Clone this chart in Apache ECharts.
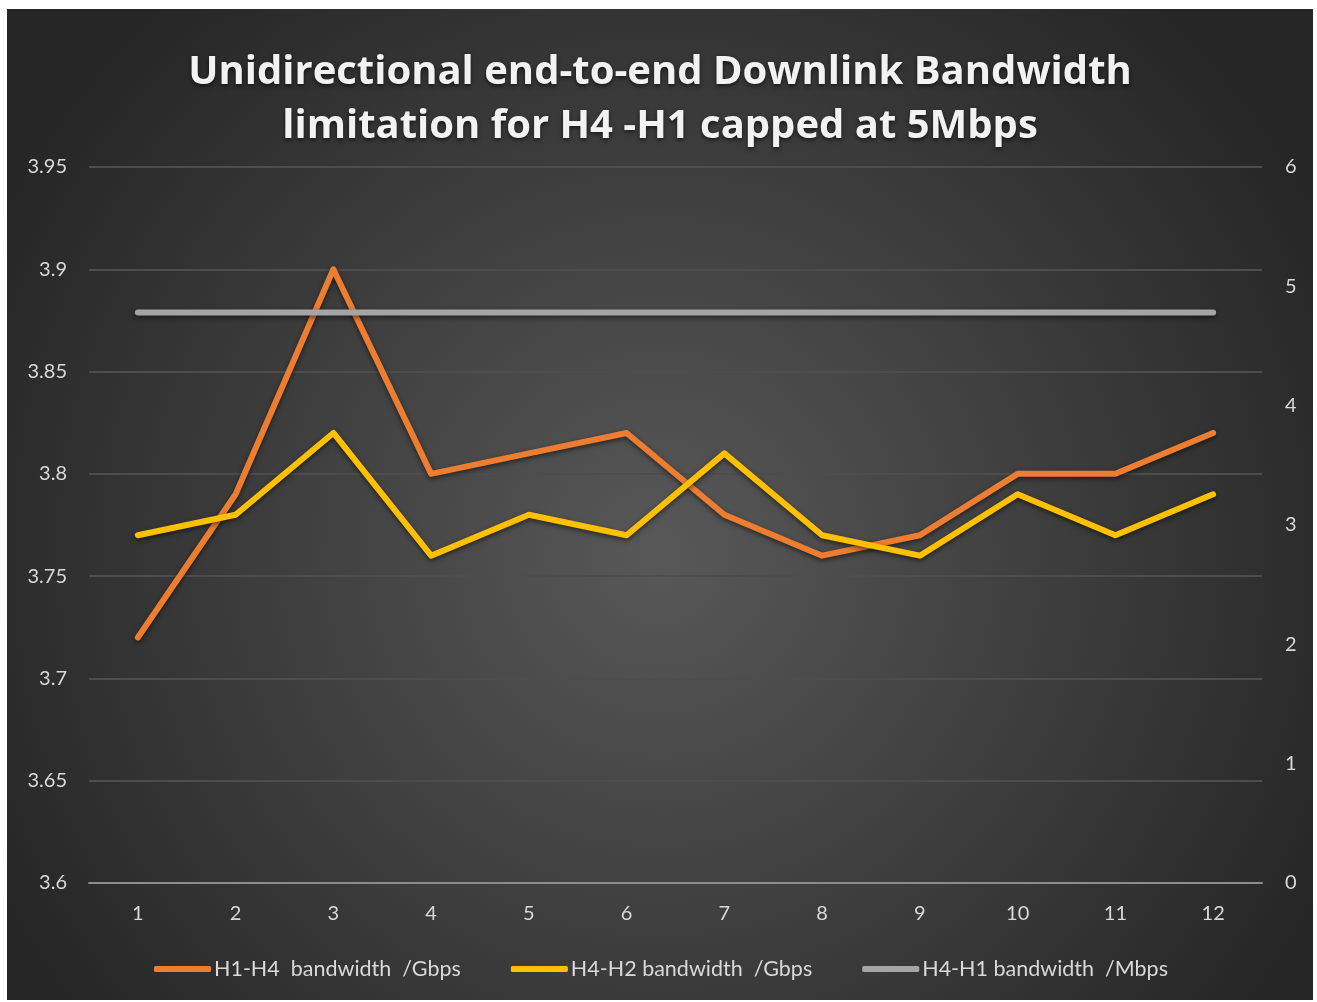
<!DOCTYPE html>
<html>
<head>
<meta charset="utf-8">
<script src="https://cdn.jsdelivr.net/npm/echarts@6/dist/echarts.min.js"></script>
<style>
  html, body { margin: 0; padding: 0; background: #ffffff; }
  #chart {
    position: absolute;
    left: 7px;
    top: 9px;
    width: 1306px;
    height: 991px;
  }
</style>
</head>
<body>
<div id="chart"></div>
<script>
const categories = ['1', '2', '3', '4', '5', '6', '7', '8', '9', '10', '11', '12']
const h1h4Gbps = [3.72, 3.79, 3.90, 3.80, 3.81, 3.82, 3.78, 3.76, 3.77, 3.80, 3.80, 3.82]
const h4h2Gbps = [3.77, 3.78, 3.82, 3.76, 3.78, 3.77, 3.81, 3.77, 3.76, 3.79, 3.77, 3.79]
const h4h1Mbps = [4.78, 4.78, 4.78, 4.78, 4.78, 4.78, 4.78, 4.78, 4.78, 4.78, 4.78, 4.78]
const leftTicks = [3.6, 3.65, 3.7, 3.75, 3.8, 3.85, 3.9, 3.95]
const rightTicks = [0, 1, 2, 3, 4, 5, 6]

const labelColor = '#d9d9d9'
const labelFont = 'Lato, "Open Sans", sans-serif'

const chart = echarts.init(document.getElementById('chart'))

const lineSeries = (name, data, color, axis) => ({
  name,
  type: 'line',
  yAxisIndex: axis,
  data,
  symbol: 'none',
  color,
  lineStyle: {
    width: 6,
    color,
    cap: 'round',
    join: 'round',
    shadowColor: 'rgba(0, 0, 0, 0.55)',
    shadowBlur: 5,
    shadowOffsetY: 2,
  },
})

chart.setOption({
  backgroundColor: {
    type: 'radial',
    x: 0.5,
    y: 0.55,
    r: 0.75,
    colorStops: [
      { offset: 0, color: '#585858' },
      { offset: 1, color: '#262626' },
    ],
  },
  title: {
    text: 'Unidirectional end-to-end Downlink Bandwidth\nlimitation for H4 -H1 capped at 5Mbps',
    left: 'center',
    top: 32,
    textStyle: {
      color: '#f2f2f2',
      fontFamily: '"Open Sans", sans-serif',
      fontWeight: 'bold',
      fontSize: 40,
      lineHeight: 54,
      textShadowColor: 'rgba(0, 0, 0, 0.6)',
      textShadowBlur: 4,
      textShadowOffsetY: 2,
    },
  },
  legend: {
    left: 142,
    top: 944,
    icon: 'roundRect',
    itemWidth: 57,
    itemHeight: 6,
    itemGap: 50,
    textStyle: {
      color: labelColor,
      fontFamily: labelFont,
      fontSize: 21.5,
      padding: [0, 0, 0, -2],
    },
    data: ['H1-H4  bandwidth  /Gbps', 'H4-H2 bandwidth  /Gbps', 'H4-H1 bandwidth  /Mbps'],
  },
  grid: {
    left: 82,
    right: 51,
    top: 158,
    bottom: 117,
  },
  xAxis: {
    type: 'category',
    data: categories,
    boundaryGap: true,
    axisTick: { show: false },
    axisLine: { lineStyle: { color: '#8c8c8c', width: 2 } },
    axisLabel: {
      color: labelColor,
      fontFamily: labelFont,
      fontSize: 20,
      margin: 21,
    },
  },
  yAxis: [
    {
      type: 'value',
      min: leftTicks[0],
      max: leftTicks[leftTicks.length - 1],
      interval: 0.05,
      axisLine: { show: false },
      axisTick: { show: false },
      splitLine: { lineStyle: { color: '#4d4d4d', width: 2 } },
      axisLabel: {
        color: labelColor,
        fontFamily: labelFont,
        fontSize: 20,
        margin: 22,
        formatter: (v) => String(parseFloat(v.toFixed(2))),
      },
    },
    {
      type: 'value',
      position: 'right',
      min: rightTicks[0],
      max: rightTicks[rightTicks.length - 1],
      interval: 1,
      axisLine: { show: false },
      axisTick: { show: false },
      splitLine: { show: false },
      axisLabel: {
        color: labelColor,
        fontFamily: labelFont,
        fontSize: 20,
        margin: 23,
      },
    },
  ],
  series: [
    lineSeries('H1-H4  bandwidth  /Gbps', h1h4Gbps, '#ed7d31', 0),
    lineSeries('H4-H2 bandwidth  /Gbps', h4h2Gbps, '#ffc000', 0),
    lineSeries('H4-H1 bandwidth  /Mbps', h4h1Mbps, '#a5a5a5', 1),
  ],
})

window.addEventListener('resize', () => {
  chart.resize()
})
</script>
</body>
</html>
